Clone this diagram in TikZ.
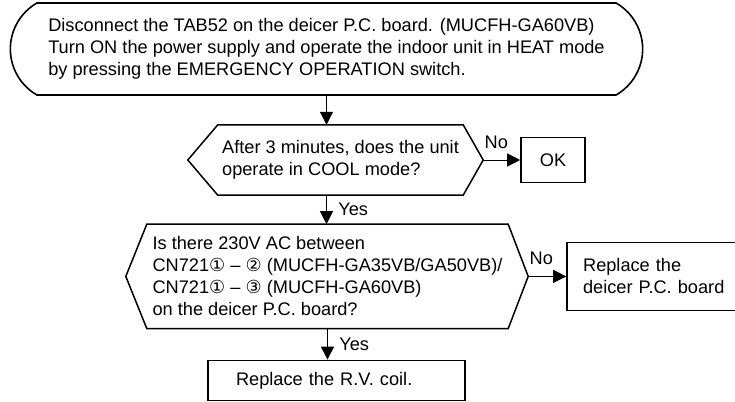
\documentclass[tikz,border=0pt]{standalone}
\usepackage{fontspec}
\setmainfont{Liberation Sans}
\newfontfamily\circfont{DejaVu Sans}
\usetikzlibrary{arrows.meta, positioning, shapes.misc}
\newcommand{\cnum}[1]{{\circfont\fontsize{18}{22}\selectfont #1}}

\begin{document}
\begin{tikzpicture}[
    x=1pt, y=1pt,
    every node/.style={font=\fontsize{18.2}{22}\selectfont},
    terminal/.style={draw, rounded rectangle, rounded rectangle arc length=120, line width=1.6pt, minimum width=639pt, minimum height=92pt, align=left},
    decision/.style={minimum height=70pt, align=left, inner sep=0pt},
    box/.style={draw, line width=1.8pt, align=center},
    outline/.style={line width=1.5pt, line join=miter},
    arrow/.style={-{Triangle[length=13pt, width=13pt]}, line width=1pt},
    yes/.style={right, xshift=8pt},
    no/.style={above right, inner sep=1pt, yshift=10pt}
]
    \useasboundingbox (0,0) rectangle (735,-401);

    % Start
    \node[terminal] (start) at (326.5,-49) {Disconnect the TAB52 on the deicer P.C. board. (MUCFH-GA60VB)\\Turn ON the power supply and operate the indoor unit in HEAT mode\\by pressing the EMERGENCY OPERATION switch.};

    % Checks
    \node[decision, minimum width=245pt, below=29pt of start, xshift=14pt] (cool) {After 3 minutes, does the unit\\operate in COOL mode?};
    \node[decision, minimum width=361pt, minimum height=104pt, below=29pt of cool, xshift=-13pt] (volt) {Is there 230V AC between\\CN721\cnum{①} -- \cnum{②} (MUCFH-GA35VB/GA50VB)/\\CN721\cnum{①} -- \cnum{③} (MUCFH-GA60VB)\\on the deicer P.C. board?};

    % Results
    \node[box, minimum width=64pt, minimum height=45pt, right=57pt of cool] (ok) {OK};
    \node[box, text width=150pt, inner xsep=16pt, minimum height=68pt, align=left, right=58pt of volt] (board) {Replace the\\deicer P.C. board};
    \node[box, text width=201pt, inner xsep=28pt, minimum height=40pt, align=left, below=31pt of volt, xshift=9pt] (coil) {Replace the R.V. coil.};

    % Hexagons
    \draw[outline] (cool.north west) -- (cool.north east) -- ([xshift=20pt]cool.east) -- (cool.south east) -- (cool.south west) -- ([xshift=-30pt]cool.west) -- cycle;
    \draw[outline] (volt.north west) -- (volt.north east) -- ([xshift=20pt]volt.east) -- (volt.south east) -- (volt.south west) -- ([xshift=-21pt]volt.west) -- cycle;

    % Arrows
    \draw[arrow] (start.south) -- (start.south |- cool.north);
    \draw[arrow] (start.south |- cool.south) -- node[yes] {Yes} (start.south |- volt.north);
    \draw[arrow] (volt.south) -- node[yes] {Yes} (volt.south |- coil.north);
    \draw[arrow] ([xshift=20pt]cool.east) -- node[no, pos=0] {No} (ok.west);
    \draw[arrow] ([xshift=20pt]volt.east) -- node[no, pos=0] {No} (board.west);

\end{tikzpicture}
\end{document}
